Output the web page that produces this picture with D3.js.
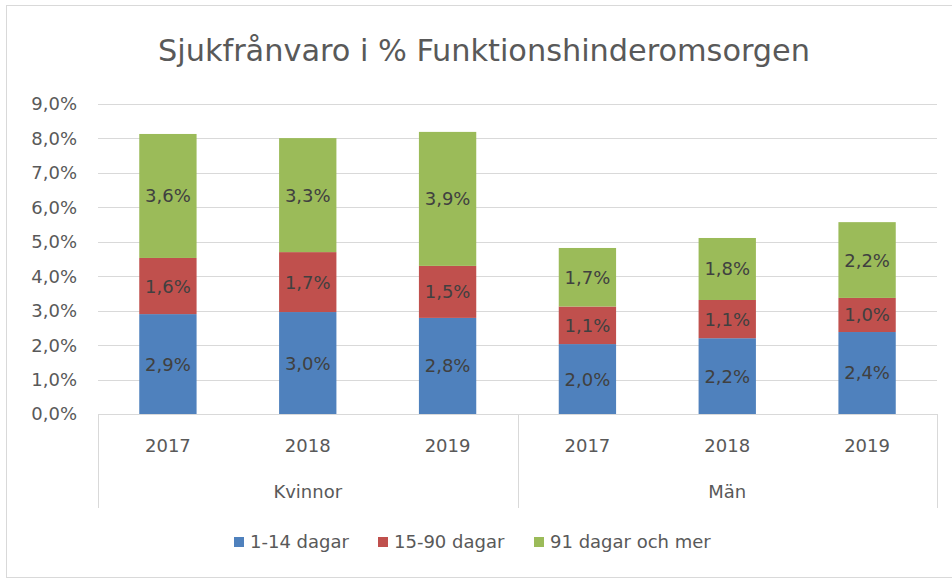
<!DOCTYPE html>
<html>
<head>
<meta charset="utf-8">
<script src="https://cdn.jsdelivr.net/npm/d3@7"></script>
<style>
  body { margin: 0; background: #fff; }
  text { font-family: "DejaVu Sans", sans-serif; }
</style>
</head>
<body>
<div id="chart"></div>
<script>
// data
var groups = ["Kvinnor", "Män"];
var years = ["2017", "2018", "2019"];
var seriesNames = ["1-14 dagar", "15-90 dagar", "91 dagar och mer"];
var kort = [2.90, 2.96, 2.79, 2.03, 2.20, 2.38];      // 1-14 dagar
var mellan = [1.63, 1.74, 1.51, 1.09, 1.11, 0.99];    // 15-90 dagar
var lang = [3.60, 3.31, 3.89, 1.70, 1.80, 2.20];      // 91 dagar och mer
var yTicks = [0, 1, 2, 3, 4, 5, 6, 7, 8, 9];
var colors = ["#4f81bd", "#c0504d", "#9bbb59"];

var W = 952, H = 579;
var margin = {top: 104, right: 15, bottom: 165, left: 98};
var width = W - margin.left - margin.right;
var height = H - margin.top - margin.bottom;

var rows = [];
groups.forEach(function(g, gi) {
  years.forEach(function(yr, yi) {
    var i = gi * years.length + yi;
    rows.push({key: g + "-" + yr, group: g, year: yr, s0: kort[i], s1: mellan[i], s2: lang[i]});
  });
});

var svg = d3.select("#chart").append("svg")
  .attr("width", W).attr("height", H);

// chart frame
svg.append("rect")
  .attr("x", 6.5).attr("y", 5.5)
  .attr("width", W).attr("height", H - 7)
  .attr("fill", "#fff").attr("stroke", "#d9d9d9");

svg.append("text")
  .attr("x", 484).attr("y", 61)
  .attr("text-anchor", "middle")
  .attr("font-size", 30)
  .attr("fill", "#595959")
  .attr("textLength", 652)
  .attr("lengthAdjust", "spacingAndGlyphs")
  .style("font-family", "'Liberation Sans Narrow', 'DejaVu Sans Condensed', sans-serif")
  .text("Sjukfrånvaro i % Funktionshinderomsorgen");

var g = svg.append("g")
  .attr("transform", "translate(" + margin.left + "," + margin.top + ")");

var x = d3.scaleBand()
  .domain(rows.map(function(d) { return d.key; }))
  .range([0, width])
  .paddingInner(0.59).paddingOuter(0.295);

var y = d3.scaleLinear().domain([0, 9]).range([height, 0]);

var fmt = function(v) { return d3.format(".1f")(v).replace(".", ",") + "%"; };

// gridlines
g.selectAll(".grid")
  .data(yTicks)
  .enter().append("line")
  .attr("x1", 0).attr("x2", width)
  .attr("y1", function(d) { return Math.round(y(d)) + 0.5; })
  .attr("y2", function(d) { return Math.round(y(d)) + 0.5; })
  .attr("stroke", "#d9d9d9").attr("stroke-width", 1);

g.selectAll(".ytick")
  .data(yTicks)
  .enter().append("text")
  .attr("x", -21)
  .attr("y", function(d) { return y(d); })
  .attr("dy", "0.36em")
  .attr("text-anchor", "end")
  .attr("font-size", 18)
  .attr("fill", "#595959")
  .text(fmt);

// stacked bars
var stack = d3.stack().keys(["s0", "s1", "s2"]);
var layers = stack(rows);

var layer = g.selectAll(".layer")
  .data(layers)
  .enter().append("g")
  .attr("fill", function(d, i) { return colors[i]; });

layer.selectAll("rect")
  .data(function(d) { return d; })
  .enter().append("rect")
  .attr("x", function(d) { return x(d.data.key); })
  .attr("y", function(d) { return y(d[1]); })
  .attr("width", x.bandwidth())
  .attr("height", function(d) { return y(d[0]) - y(d[1]); });

layer.selectAll("text")
  .data(function(d) { return d; })
  .enter().append("text")
  .attr("x", function(d) { return x(d.data.key) + x.bandwidth() / 2; })
  .attr("y", function(d) { return (y(d[0]) + y(d[1])) / 2; })
  .attr("dy", "0.36em")
  .attr("text-anchor", "middle")
  .attr("font-size", 18)
  .attr("fill", "#404040")
  .text(function(d) { return fmt(d[1] - d[0]); });

// multi-level category axis
var step = x.step();
var axisG = g.append("g").attr("transform", "translate(0," + height + ")");
axisG.append("line")
  .attr("x1", 0).attr("x2", width)
  .attr("y1", 0.5).attr("y2", 0.5)
  .attr("stroke", "#d9d9d9");

var dividers = [0];
groups.forEach(function(gr, gi) { dividers.push((gi + 1) * years.length * step); });
axisG.selectAll(".div")
  .data(dividers)
  .enter().append("line")
  .attr("x1", function(d) { return Math.round(d) + 0.5; })
  .attr("x2", function(d) { return Math.round(d) + 0.5; })
  .attr("y1", 0).attr("y2", 94)
  .attr("stroke", "#d9d9d9");

axisG.selectAll(".year")
  .data(rows)
  .enter().append("text")
  .attr("x", function(d) { return x(d.key) + x.bandwidth() / 2; })
  .attr("y", 38)
  .attr("text-anchor", "middle")
  .attr("font-size", 18)
  .attr("fill", "#595959")
  .text(function(d) { return d.year; });

axisG.selectAll(".grp")
  .data(groups)
  .enter().append("text")
  .attr("x", function(d, i) { return (i + 0.5) * years.length * step; })
  .attr("y", 84)
  .attr("text-anchor", "middle")
  .attr("font-size", 18)
  .attr("fill", "#595959")
  .text(function(d) { return d; });

// legend
var legendX = [234, 378, 534];
var legend = svg.selectAll(".legend")
  .data(seriesNames)
  .enter().append("g")
  .attr("transform", function(d, i) { return "translate(" + legendX[i] + ",537)"; });

legend.append("rect")
  .attr("width", 10).attr("height", 10)
  .attr("fill", function(d, i) { return colors[i]; });

legend.append("text")
  .attr("x", 16).attr("y", 5)
  .attr("dy", "0.36em")
  .attr("font-size", 18)
  .attr("fill", "#595959")
  .text(function(d) { return d; });
</script>
</body>
</html>
